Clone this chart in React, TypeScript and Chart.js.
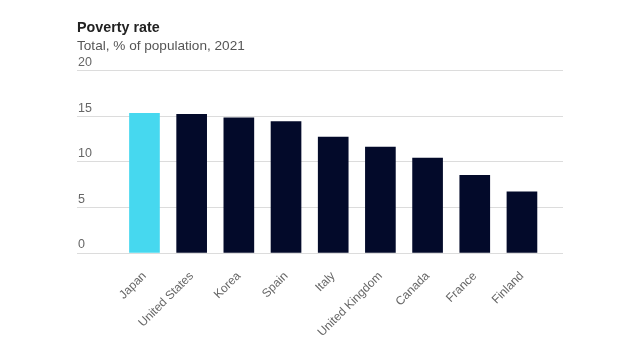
import React, { useEffect, useRef } from "react";
import { Chart, registerables } from "chart.js";

Chart.register(...registerables);

const countries = ["Japan", "United States", "Korea", "Spain", "Italy", "United Kingdom", "Canada", "France", "Finland"];
const povertyRate = [15.3, 15.2, 14.8, 14.4, 12.7, 11.6, 10.4, 8.5, 6.7];
const highlightCountry = "Japan";
const yTicks = [0, 5, 10, 15, 20];

const FONT = "'Liberation Sans', Arial, sans-serif";

export default function App() {
  const ref = useRef<HTMLCanvasElement | null>(null);

  useEffect(() => {
    document.body.style.margin = "0";
    const ctx = ref.current!;
    const chart = new Chart(ctx, {
      type: "bar",
      data: {
        datasets: [
          {
            data: povertyRate.map((v, i) => ({ x: i, y: v })),
            backgroundColor: countries.map((c) => (c === highlightCountry ? "#46d8ef" : "#030a2a")),
            barThickness: 30,
            borderWidth: 0,
          },
        ],
      },
      options: {
        animation: false,
        responsive: false,
        maintainAspectRatio: false,
        layout: { padding: { left: 77, right: 77, top: 0, bottom: 0 } },
        plugins: {
          legend: { display: false },
          tooltip: { enabled: false },
          title: {
            display: true,
            text: "Poverty rate",
            align: "start",
            color: "#222222",
            font: { family: FONT, size: 14.3, weight: "bold", lineHeight: 1.2 },
            padding: { top: 19, bottom: 2 },
          },
          subtitle: {
            display: true,
            text: "Total, % of population, 2021",
            align: "start",
            color: "#555555",
            font: { family: FONT, size: 13.6, lineHeight: 1.2 },
            padding: { top: 0, bottom: 16 },
          },
        },
        scales: {
          x: {
            type: "linear",
            offset: false,
            min: -1.43,
            max: 8.87,
            grid: { display: false },
            border: { display: false },
            afterBuildTicks: (s: any) => {
              s.ticks = countries.map((_, i) => ({ value: i }));
            },
            afterFit: (s: any) => {
              s.height = 107;
              s.paddingLeft = 0;
              s.paddingRight = 0;
            },
            ticks: {
              autoSkip: false,
              minRotation: 45,
              maxRotation: 45,
              color: "#666666",
              font: { family: FONT, size: 12 },
              padding: 8,
              callback: (v: any) => countries[v] ?? "",
            },
          },
          y: {
            min: 0,
            max: 20,
            afterBuildTicks: (s: any) => {
              s.ticks = yTicks.map((v) => ({ value: v }));
            },
            afterFit: (s: any) => {
              s.width = 0;
              s.paddingTop = 0;
              s.paddingBottom = 0;
            },
            grid: { color: "#dcdcdc", drawTicks: false, lineWidth: 1 },
            border: { display: false },
            ticks: {
              mirror: true,
              padding: 1,
              labelOffset: -8,
              color: "#666666",
              font: { family: FONT, size: 12.5 },
            },
          },
        },
      },
    } as any);
    return () => chart.destroy();
  }, []);

  return (
    <div style={{ width: 640, height: 360, background: "#ffffff" }}>
      <canvas ref={ref} width={640} height={360} style={{ display: "block" }} />
    </div>
  );
}
